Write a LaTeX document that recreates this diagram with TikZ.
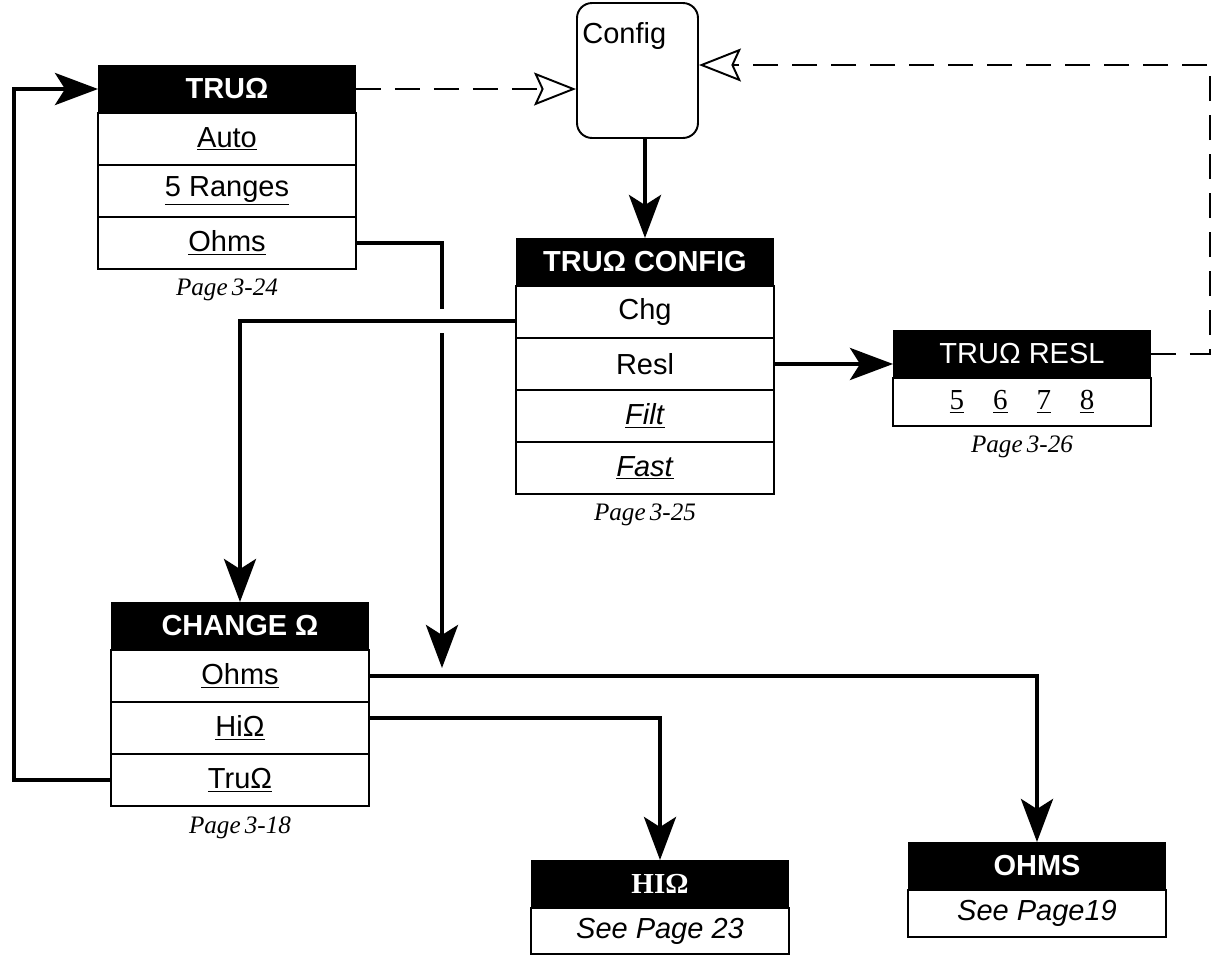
\documentclass[tikz,border=0pt]{standalone}
\usepackage{fontspec}
\setmainfont{Liberation Sans}
\newfontfamily\capfont{Liberation Serif}
\usetikzlibrary{arrows.meta,positioning,calc}

\tikzset{
  hdr/.style={rectangle,fill=black,text=white,font=\fontsize{16.5}{19}\selectfont\bfseries,minimum width=5.16cm,minimum height=0.96cm,inner sep=0pt,outer sep=0pt},
  row/.style={rectangle,draw=black,line width=0.9pt,fill=white,font=\fontsize{16.5}{19}\selectfont,minimum width=5.16cm,minimum height=1.04cm,inner sep=0pt,outer sep=0pt},
  pagecap/.style={font=\capfont\itshape\fontsize{14.3}{17}\selectfont,inner sep=0pt},
  flow/.style={line width=2.5pt,-{Stealth[length=0.86cm,width=0.64cm,inset=0.2cm]}},
  plainflow/.style={line width=2.5pt},
  dashflow/.style={line width=1.1pt,dash pattern=on 0.5cm off 0.28cm,-{Stealth[open,fill=white,length=0.84cm,width=0.66cm,inset=0.15cm]}},
}

\begin{document}
\begin{tikzpicture}[x=0.02cm,y=-0.02cm]
\useasboundingbox (0,0) rectangle (1215,965);

% TRU ohms menu
\node[hdr] (hdrA) at (227,89) {TRUΩ};
\node[row,below=0pt of hdrA] (rowA1) {\underline{Auto}};
\node[row,below=0pt of rowA1] (rowA2) {\underline{5 Ranges}};
\node[row,below=0pt of rowA2] (rowA3) {\underline{Ohms}};
\node[pagecap,below=0.2cm of rowA3] (capA) {Page\,3-24};

% config key
\node[draw,rounded corners=0.3cm,line width=1.1pt,minimum width=2.42cm,minimum height=2.7cm,
  label={[anchor=north west,inner xsep=0.12cm,inner ysep=0.4cm,font=\fontsize{16.5}{19}\selectfont]north west:Config}] (config) at (637.5,70.5) {};

% config menu
\node[hdr] (hdrB) at (645,262) {TRUΩ CONFIG};
\node[row,below=0pt of hdrB] (rowB1) {Chg};
\node[row,below=0pt of rowB1] (rowB2) {Resl};
\node[row,below=0pt of rowB2] (rowB3) {\underline{\textit{Filt}}};
\node[row,below=0pt of rowB3] (rowB4) {\underline{\textit{Fast}}};
\node[pagecap,below=0.2cm of rowB4] (capB) {Page\,3-25};

% resolution menu
\node[hdr] (hdrC) at (1022,354) {\mdseries TRUΩ RESL};
\node[row,below=0pt of hdrC,minimum height=0.96cm] (rowC1) {\capfont\underline{5}\quad\underline{6}\quad\underline{7}\quad\underline{8}};
\node[pagecap,below=0.2cm of rowC1] (capC) {Page\,3-26};

% change menu
\node[hdr] (hdrD) at (240,626) {CHANGE Ω};
\node[row,below=0pt of hdrD] (rowD1) {\underline{Ohms}};
\node[row,below=0pt of rowD1] (rowD2) {\underline{HiΩ}};
\node[row,below=0pt of rowD2] (rowD3) {\underline{TruΩ}};
\node[pagecap,below=0.2cm of rowD3] (capD) {Page\,3-18};

% targets
\node[hdr] (hdrE) at (660,884) {\capfont HIΩ};
\node[row,below=0pt of hdrE,minimum height=0.92cm] (rowE1) {\textit{See Page 23}};
\node[hdr] (hdrF) at (1037,866) {OHMS};
\node[row,below=0pt of hdrF,minimum height=0.94cm] (rowF1) {\textit{See Page19}};

% connectors
\coordinate (loopx) at (14,0);
\coordinate (dropx) at (442,0);
\coordinate (dashtop) at (1210,65);
\coordinate (chgout) at ($(rowB1.west)+(0,9)$);
\coordinate (hop) at (dropx |- chgout);

\draw[flow] (rowD3.west) -- (rowD3.west -| loopx) |- (hdrA.west);
\draw[dashflow] (hdrA.east) -- (hdrA.east -| config.west);
\draw[dashflow] (hdrC.east) -| (dashtop) -- (dashtop -| config.east);
\draw[flow] (config.south -| hdrB.north) -- (hdrB.north);
\draw[flow] (chgout) -| (hdrD.north);
\draw[flow] (rowB2.east) -- (rowB2.east -| hdrC.west);
\draw[plainflow] (rowA3.east) -| ($(hop)+(0,-12)$);
\draw[flow,shorten >=0.16cm] ($(hop)+(0,12)$) -- (dropx |- rowD1.east);
\draw[flow] (rowD1.east) -| (hdrF.north);
\draw[flow] ($(rowD2.east)+(0,-10)$) -| (hdrE.north);
\end{tikzpicture}
\end{document}
